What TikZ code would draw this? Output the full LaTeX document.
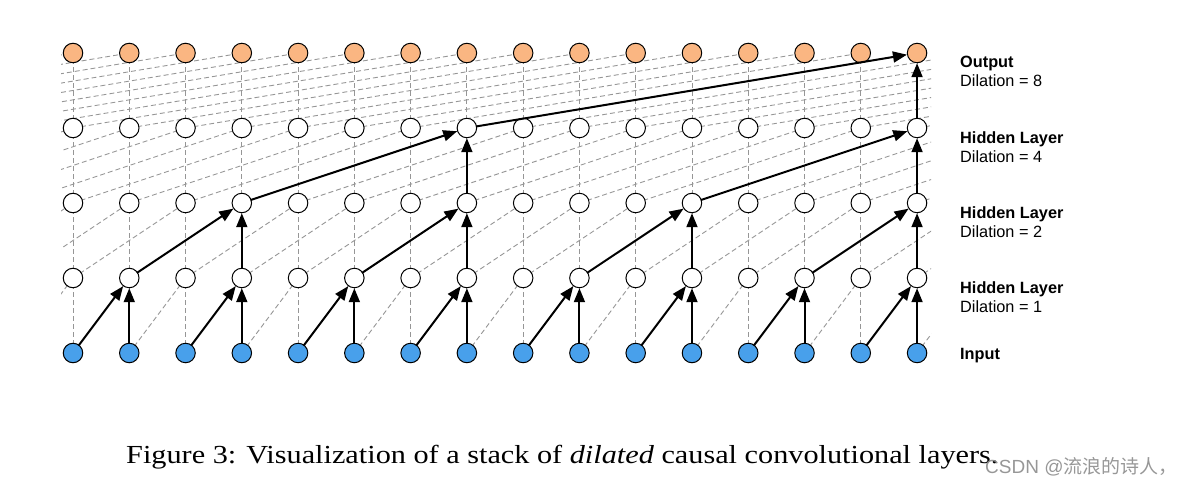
\documentclass[tikz,border=0pt]{standalone}
\usepackage{fontspec}
\setmainfont{Liberation Serif}
\newfontfamily\lsans{Liberation Sans}
\newfontfamily\cjk{Noto Sans CJK SC}
\usetikzlibrary{arrows.meta}
\definecolor{outc}{RGB}{250,182,130}
\definecolor{inc}{RGB}{72,160,235}
\definecolor{dgray}{RGB}{150,150,150}
\begin{document}
\begin{tikzpicture}[x=1pt,y=-1pt,
  neuron/.style={circle,draw=black,line width=1pt,minimum size=19.5pt,inner sep=0pt,fill=white},
  outn/.style={neuron,fill=outc},
  inn/.style={neuron,fill=inc},
  dline/.style={draw=dgray,line width=0.9pt,dash pattern=on 5pt off 3pt},
  arr/.style={draw=black,line width=2pt,-{Triangle[length=14pt,width=11pt]},shorten <=-1pt},
  lblb/.style={anchor=base west,inner sep=0pt,font=\lsans\bfseries\fontsize{16.3}{19}\selectfont},
  lbln/.style={anchor=base west,inner sep=0pt,font=\lsans\fontsize{16.3}{19}\selectfont}]
\useasboundingbox (0,0) rectangle (1184,486);
% coordinates
\foreach \r/\y in {0/353,1/278,2/203,3/128,4/53}{
  \foreach \c in {-8,...,23}{
    \coordinate (p-\r-\c) at ({73+\c*56.27},\y);
  }
}
% dashed connections
\begin{scope}
\clip (61,0) rectangle (931,486);
\foreach \r/\d in {0/1,1/2,2/4,3/8}{
  \pgfmathtruncatemacro{\rn}{\r+1}
  \foreach \c in {-8,...,15}{
    \pgfmathtruncatemacro{\cn}{\c+\d}
    \draw[dline] (p-\r-\c) -- (p-\rn-\cn);
  }
  \foreach \c in {0,...,15}{
    \draw[dline] (p-\r-\c) -- (p-\rn-\c);
  }
}
\end{scope}
% nodes
\foreach \c in {0,...,15}{
  \node[inn] (n-0-\c) at (p-0-\c) {};
  \node[neuron] (n-1-\c) at (p-1-\c) {};
  \node[neuron] (n-2-\c) at (p-2-\c) {};
  \node[neuron] (n-3-\c) at (p-3-\c) {};
  \node[outn] (n-4-\c) at (p-4-\c) {};
}
% solid arrows
\foreach \k in {0,...,7}{
  \pgfmathtruncatemacro{\a}{2*\k}
  \pgfmathtruncatemacro{\b}{2*\k+1}
  \draw[arr] (n-0-\a) -- (n-1-\b);
  \draw[arr] (n-0-\b) -- (n-1-\b);
}
\foreach \k in {0,...,3}{
  \pgfmathtruncatemacro{\a}{4*\k+1}
  \pgfmathtruncatemacro{\b}{4*\k+3}
  \draw[arr] (n-1-\a) -- (n-2-\b);
  \draw[arr] (n-1-\b) -- (n-2-\b);
}
\foreach \k in {0,1}{
  \pgfmathtruncatemacro{\a}{8*\k+3}
  \pgfmathtruncatemacro{\b}{8*\k+7}
  \draw[arr] (n-2-\a) -- (n-3-\b);
  \draw[arr] (n-2-\b) -- (n-3-\b);
}
\draw[arr] (n-3-7) -- (n-4-15);
\draw[arr] (n-3-15) -- (n-4-15);
% labels
\node[lblb] (l4a) at (960,68) {Output};
\node[lbln] (l4b) at (960,87) {Dilation = 8};
\node[lblb] (l3a) at (960,144) {Hidden Layer};
\node[lbln] (l3b) at (960,163) {Dilation = 4};
\node[lblb] (l2a) at (960,219) {Hidden Layer};
\node[lbln] (l2b) at (960,238) {Dilation = 2};
\node[lblb] (l1a) at (960,294) {Hidden Layer};
\node[lbln] (l1b) at (960,313) {Dilation = 1};
\node[lblb] (l0a) at (960,360) {Input};
% caption
\node[anchor=base west,inner sep=0pt,font=\fontsize{26}{30}\selectfont] (cap) at (126,463)
  {\scalebox{1.164}[1]{Figure 3: Visualization of a stack of \textit{dilated} causal convolutional layers.}};
\node[anchor=base west,inner sep=0pt,text=black!45,opacity=0.9,font=\fontsize{19}{21}\selectfont] (wm) at (985,473)
  {\lsans CSDN @\cjk 流浪的诗人，};
\end{tikzpicture}
\end{document}
